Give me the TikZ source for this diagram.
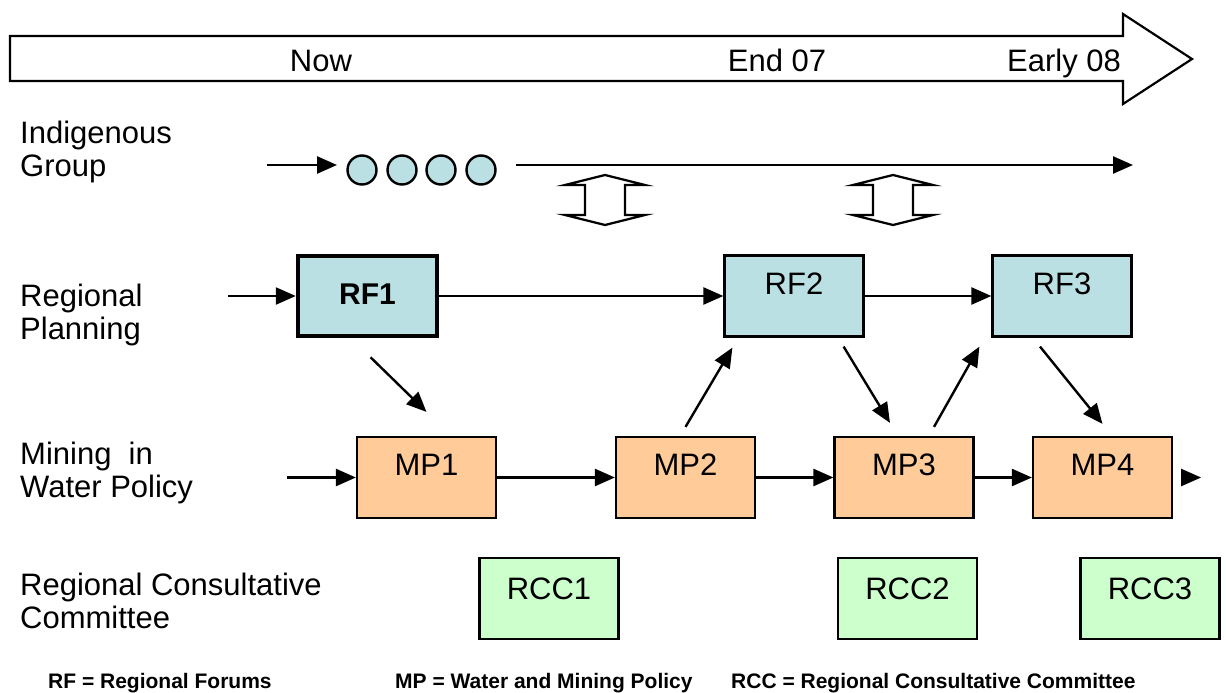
\documentclass[tikz,border=0pt]{standalone}
\usepackage{fontspec}
\setmainfont{Liberation Sans}
\usetikzlibrary{arrows.meta}
\definecolor{rfcol}{HTML}{BBE0E3}
\definecolor{mpcol}{HTML}{FFCC99}
\definecolor{rcccol}{HTML}{CCFFCC}
\begin{document}
\begin{tikzpicture}
      [
      x=1pt,y=-1pt,
      big/.style={font=\fontsize{31}{33}\selectfont},
      lab/.style={big,anchor=north west,align=left,inner sep=0pt},
      box/.style={big,rectangle,draw,line width=2.2pt,inner sep=0pt,minimum width=139pt,minimum height=81pt,text height=22pt,text depth=26pt},
      rfbox/.style={box,fill=rfcol},
      mpbox/.style={box,fill=mpcol},
      rccbox/.style={box,fill=rcccol,text depth=21pt},
      dot/.style={circle,draw,line width=2.4pt,fill=rfcol,inner sep=0pt,minimum size=29pt},
      arr/.style={line width=2.4pt,-{Triangle[length=20pt,width=17pt]}},
      note/.style={font=\fontsize{21}{23}\selectfont\bfseries,anchor=base west,inner sep=0pt}
      ]
      \useasboundingbox (0,0) rectangle (1226,693);
      % time line
      \draw [line width=2.2pt,line join=miter] (10,36) -- (1123,36) -- (1123,14) -- (1192,59)
            -- (1123,104) -- (1123,81) -- (10,81) -- cycle;
      \node (now) at (321,71) [big,anchor=base] {Now};
      \node (end) at (777,71) [big,anchor=base] {End 07};
      \node (early) at (1064,71) [big,anchor=base] {Early 08};
      % row labels
      \node (lig) at (20,121) [lab] {Indigenous\\Group};
      \node (lrp) at (20,284) [lab] {Regional\\Planning};
      \node (lmw) at (20,442) [lab] {Mining\ \ in\\Water Policy};
      \node (lrc) at (20,573) [lab] {Regional Consultative\\Committee};
      % indigenous group
      \foreach \i/\x in {1/362,2/402,3/441,4/481}
        \node (c\i) at (\x,170) [dot] {};
      \coordinate (igin) at (267,165);
      \coordinate (igtip) at (337,165);
      \coordinate (igs) at (516,165);
      \coordinate (ige) at (1133,165);
      \draw [arr] (igin) to (igtip);
      \draw [arr] (igs) to (ige);
      % double arrows
      \foreach \x in {605,893}
        \draw [line width=2.2pt,line join=miter] (\x,175) -- ++(40,10) -- ++(-20,0) -- ++(0,30) -- ++(20,0)
              -- ++(-40,10) -- ++(-40,-10) -- ++(20,0) -- ++(0,-30) -- ++(-20,0) -- cycle;
      % regional planning
      \node (rf1) at (367.5,296) [rfbox,line width=4.5pt,minimum width=139pt,minimum height=80pt,
            text depth=6pt,font=\fontsize{30}{32}\selectfont\bfseries] {RF1};
      \node (rf2) at (794,296) [rfbox] {RF2};
      \node (rf3) at (1062,296) [rfbox] {RF3};
      \coordinate (rpin) at (228,296);
      \draw [arr] (rpin) to (rf1.west);
      \draw [arr] (rf1.east) to (rf2.west);
      \draw [arr] (rf2.east) to (rf3.west);
      % mining in water policy
      \node (mp1) at (426.5,477.5) [mpbox] {MP1};
      \node (mp2) at (685.5,477.5) [mpbox] {MP2};
      \node (mp3) at (904,477.5) [mpbox] {MP3};
      \node (mp4) at (1102.5,477.5) [mpbox] {MP4};
      \coordinate (mpin) at (287,477.5);
      \coordinate (mpout) at ([xshift=28pt]mp4.east);
      \draw [arr] (mpin) to (mp1.west);
      \draw [arr] (mp1.east) to (mp2.west);
      \draw [arr] (mp2.east) to (mp3.west);
      \draw [arr] (mp3.east) to (mp4.west);
      \draw [arr] ([xshift=9pt]mp4.east) to (mpout);
      % links between rows
      \draw [arr] ([shift={(3,19)}]rf1.south) to ([shift={(0,-24)}]mp1.north);
      \draw [arr] ([shift={(0,-9)}]mp2.north) to ([shift={(9,10)}]rf2.south west);
      \draw [arr] ([shift={(-21,9)}]rf2.south east) to ([shift={(-14,-13)}]mp3.north);
      \draw [arr] ([shift={(30,-9)}]mp3.north) to ([shift={(-12,9)}]rf3.south west);
      \draw [arr] ([shift={(-22,9)}]rf3.south) to ([shift={(0,-12)}]mp4.north);
      % regional consultative committee
      \node (rcc1) at (549,598.5) [rccbox] {RCC1};
      \node (rcc2) at (907.5,598.5) [rccbox] {RCC2};
      \node (rcc3) at (1150,598.5) [rccbox] {RCC3};
      % key
      \node (krf) at (48,688) [note] {RF = Regional Forums};
      \node (kmp) at (395,688) [note] {MP = Water and Mining Policy};
      \node (krcc) at (731,688) [note] {RCC = Regional Consultative Committee};
    \end{tikzpicture}
\end{document}
